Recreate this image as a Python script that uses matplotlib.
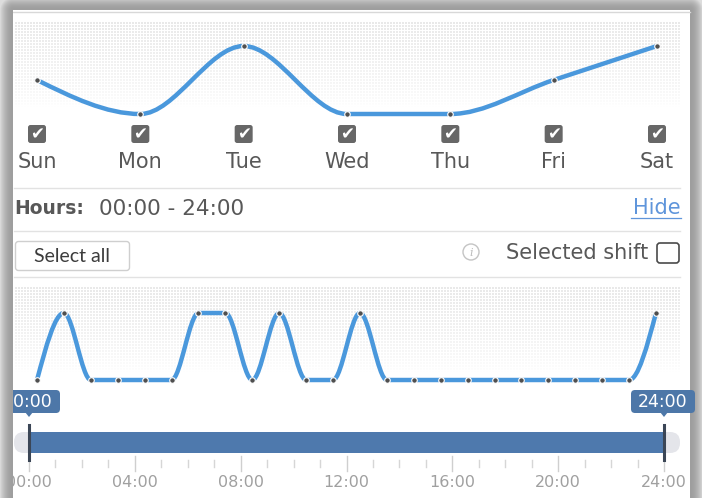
import numpy as np
import matplotlib
matplotlib.use("Agg")
import matplotlib.pyplot as plt
from matplotlib.path import Path
from matplotlib.patches import PathPatch, FancyBboxPatch, Rectangle, Circle, Polygon

# data
days = ['Sun', 'Mon', 'Tue', 'Wed', 'Thu', 'Fri', 'Sat']
day_values = [1, 0, 2, 0, 0, 1, 2]
hour_values = [0, 1, 0, 0, 0, 0, 1, 1, 0, 1, 0, 0, 1, 0,
               0, 0, 0, 0, 0, 0, 0, 0, 0, 1]
hour_labels = ['00:00', '04:00', '08:00', '12:00', '16:00', '20:00', '24:00']
range_start, range_end = 0, 24

W, H = 702, 498
LINE = '#4a98dc'
DOT = '#4f4f4f'
TXT = '#585858'
SLIDER = '#4e79ad'
FONT = 'DejaVu Sans'


def monotone_path(x, y):
    # monotone cubic (like d3.curveMonotoneX), as bezier segments
    x = np.asarray(x, float)
    y = np.asarray(y, float)
    n = len(x)
    h = np.diff(x)
    s = np.diff(y) / h
    t = np.zeros(n)
    for i in range(1, n - 1):
        p = (s[i - 1] * h[i] + s[i] * h[i - 1]) / (h[i - 1] + h[i])
        t[i] = (np.sign(s[i - 1]) + np.sign(s[i])) * min(abs(s[i - 1]), abs(s[i]), 0.5 * abs(p))
    t[0] = (3 * s[0] - t[1]) / 2
    t[-1] = (3 * s[-1] - t[-2]) / 2
    verts = [(x[0], y[0])]
    codes = [Path.MOVETO]
    for i in range(n - 1):
        dx = (x[i + 1] - x[i]) / 3
        verts += [(x[i] + dx, y[i] + dx * t[i]),
                  (x[i + 1] - dx, y[i + 1] - dx * t[i + 1]),
                  (x[i + 1], y[i + 1])]
        codes += [Path.CURVE4] * 3
    return Path(verts, codes)


def dot_texture(w, h):
    img = np.zeros((h, w, 4))
    img[..., :3] = 0.86
    mask = ((np.arange(h)[:, None] % 3) < 2) & ((np.arange(w)[None, :] % 3) < 2)
    fade = np.clip(1.0 - np.arange(h) / h, 0, 1)[:, None] ** 0.7
    img[..., 3] = mask * fade * 0.6
    return img


fig = plt.figure(figsize=(W / 100, H / 100), dpi=100)
ax = fig.add_axes([0, 0, 1, 1])
ax.set_xlim(0, W)
ax.set_ylim(H, 0)
ax.axis('off')

# window shadow around the panel
yy, xx = np.mgrid[0:H, 0:W] + 0.5
px0, px1, py0 = 13, 690, 10
dx = np.maximum(np.maximum(px0 - xx, xx - px1), 0)
dy = np.maximum(py0 - yy, 0)
d = np.hypot(dx, dy)
g = np.where(d > 0, 0.62 + 0.25 * np.clip(d / 13, 0, 1) ** 2, 1.0)
bg = np.dstack([g, g, g])
ax.imshow(bg, extent=(0, W, H, 0), interpolation='bilinear', zorder=0, aspect='auto')
ax.plot([px0, px1], [py0 + 1.5, py0 + 1.5], color='#d8d8d8', lw=1, zorder=1)

# dotted chart backgrounds
ax.imshow(dot_texture(666, 85), extent=(15, 681, 107, 22), interpolation='nearest', zorder=1, aspect='auto')
ax.imshow(dot_texture(666, 85), extent=(15, 681, 372, 287), interpolation='nearest', zorder=1, aspect='auto')

# day chart
axd = fig.add_axes([37 / W, 1 - 114 / H, 620 / W, 68 / H])
axd.set_xlim(0, len(days) - 1)
axd.set_ylim(0, 2)
axd.axis('off')
axd.patch.set_alpha(0)
dx_days = np.arange(len(days))
axd.add_patch(PathPatch(monotone_path(dx_days, day_values), fill=False, ec=LINE, lw=3.2,
                        capstyle='round', clip_on=False))
axd.plot(dx_days, day_values, 'o', ms=4, mfc=DOT, mec='white', mew=0.8, clip_on=False)

# checkboxes + day labels
day_px = 37 + dx_days * 620 / (len(days) - 1)
for xc, name in zip(day_px, days):
    ax.add_patch(FancyBboxPatch((xc - 9, 125), 18, 18, boxstyle='round,pad=0,rounding_size=2.5',
                                fc='#676767', ec='none', zorder=3))
    ax.text(xc, 134.5, '\u2714', color='white', fontsize=12, ha='center', va='center',
            family='DejaVu Sans', zorder=4)
    ax.text(xc, 161.5, name, color=TXT, fontsize=15, ha='center', va='center', family=FONT, zorder=3)

# separators
for ysep in [187.5, 230.5, 276.5]:
    ax.plot([14, 680], [ysep, ysep], color='#e2e2e2', lw=1, zorder=2)

# hours row
ax.text(14, 208.5, 'Hours:', color=TXT, fontsize=13.5, fontweight='bold', ha='left', va='center', family=FONT)
ax.text(99, 208.5, '%02d:00 - %02d:00' % (range_start, range_end), color=TXT, fontsize=15.5,
        ha='left', va='center', family=FONT)
ax.text(681, 207.5, 'Hide', color='#5f95db', fontsize=15, ha='right', va='center', family=FONT)
ax.plot([631, 681], [218, 218], color='#5f95db', lw=0.9)

# select all / selected shift row
ax.add_patch(FancyBboxPatch((15.5, 241.5), 114, 29, boxstyle='round,pad=0,rounding_size=3',
                            fc='white', ec='#cfcfcf', lw=1, zorder=3))
ax.text(72.5, 256.5, 'Select all', color='#3c3c3c', fontsize=14, ha='center', va='center',
        family='Lato', zorder=4)
ax.add_patch(Circle((471, 252), 8, fc='white', ec='#c4c4c4', lw=1, zorder=3))
ax.text(471, 252.5, 'i', color='#bbbbbb', fontsize=8, style='italic', ha='center', va='center',
        family='DejaVu Serif', zorder=4)
ax.text(648, 252.5, 'Selected shift', color=TXT, fontsize=15, ha='right', va='center', family=FONT)
ax.add_patch(FancyBboxPatch((657, 243), 22, 20, boxstyle='round,pad=0,rounding_size=3',
                            fc='white', ec='#4a4a4a', lw=1.2, zorder=3))

# hourly chart
axh = fig.add_axes([37 / W, 1 - 380 / H, 619 / W, 67 / H])
hx = np.arange(len(hour_values))
axh.set_xlim(0, len(hour_values) - 1)
axh.set_ylim(0, 1)
axh.axis('off')
axh.patch.set_alpha(0)
axh.add_patch(PathPatch(monotone_path(hx, hour_values), fill=False, ec=LINE, lw=3.2,
                        capstyle='round', clip_on=False))
axh.plot(hx, hour_values, 'o', ms=4, mfc=DOT, mec='white', mew=0.8, clip_on=False)

# range slider
sx0, sx1 = 29, 664
hour_px = lambda hh: sx0 + (sx1 - sx0) * hh / 24.0
ax.add_patch(FancyBboxPatch((14, 432), 666, 21, boxstyle='round,pad=0,rounding_size=10',
                            fc='#e4e5ea', ec='none', zorder=3))
ax.add_patch(Rectangle((hour_px(range_start), 432), hour_px(range_end) - hour_px(range_start), 20.5,
                       fc=SLIDER, ec='none', zorder=4))
for hv in [range_start, range_end]:
    xp = hour_px(hv)
    ax.plot([xp, xp], [425, 460], color='#3b4656', lw=2.2, zorder=5)
    ax.add_patch(FancyBboxPatch((xp - 33, 390), 64, 23, boxstyle='round,pad=0,rounding_size=4',
                                fc='#4d77a8', ec='none', zorder=5))
    ax.add_patch(Polygon([[xp - 4, 412], [xp + 4, 412], [xp, 417]], closed=True, fc='#4d77a8',
                         ec='none', zorder=5))
    ax.text(xp - 1, 401.5, '%02d:00' % hv, color='white', fontsize=12.5, ha='center', va='center',
            family='DejaVu Sans', zorder=6)

# slider ticks and labels
for hh in range(25):
    xp = hour_px(hh)
    if hh % 4 == 0:
        ax.plot([xp, xp], [456, 471], color='#cfcfcf', lw=1, zorder=2)
    else:
        ax.plot([xp, xp], [460, 467], color='#d6d6d6', lw=1, zorder=2)
for i, lab in enumerate(hour_labels):
    ax.text(hour_px(i * 4), 482, lab, color='#a0a0a0', fontsize=11.5, ha='center', va='center',
            family='DejaVu Sans', zorder=2)

# left shadow strip drawn over anything that pokes out of the panel
strip = np.dstack([g[:, :13]] * 3)
ax.imshow(strip, extent=(0, 13, H, 0), interpolation='bilinear', zorder=10, aspect='auto')
ax.set_xlim(0, W)
ax.set_ylim(H, 0)

fig.savefig('out.png', dpi=100)
